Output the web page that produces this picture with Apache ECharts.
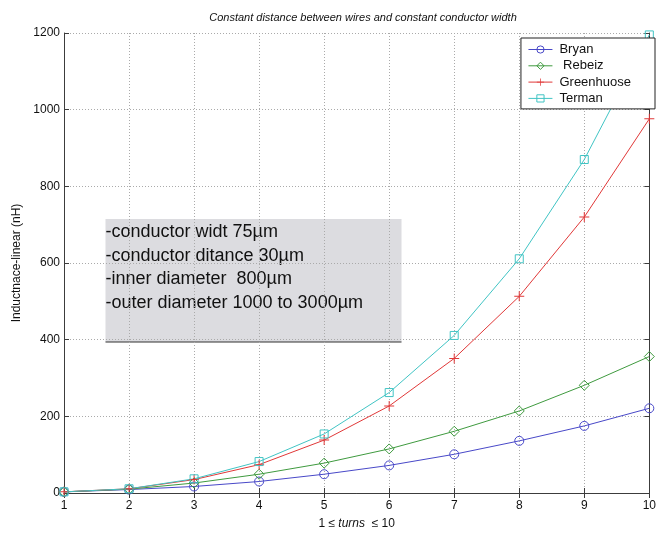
<!DOCTYPE html>
<html>
<head>
<meta charset="utf-8">
<script src="https://cdn.jsdelivr.net/npm/echarts@6/dist/echarts.min.js"></script>
<style>html,body{margin:0;padding:0;background:#fff}#c{width:659px;height:535px}</style>
</head>
<body>
<div id="c"></div>
<script>
var turns = [1, 2, 3, 4, 5, 6, 7, 8, 9, 10];
var bryan = [3, 9, 17, 30, 49, 72, 101, 136, 175, 221];
var rebeiz = [3, 10, 26, 49, 78, 115, 161, 214, 281, 356];
var greenhuose = [3, 11, 35, 74, 138, 227, 351, 513, 720, 976];
var terman = [3, 11, 37, 82, 154, 262, 411, 611, 870, 1195];
var seriesNames = ['Bryan', ' Rebeiz', 'Greenhuose', 'Terman'];
var infoLines = ['-conductor widt 75\u00b5m', '-conductor ditance 30\u00b5m', '-inner diameter  800\u00b5m', '-outer diameter 1000 to 3000\u00b5m'];

function pairs(ys) { return turns.map(function (x, i) { return [x, ys[i]]; }); }

var chart = echarts.init(document.getElementById('c'));
var FONT = 'Liberation Sans, Arial, sans-serif';
var axisCol = '#3c3c3c';
var plus = 'path://M4.5,0H5.5V10H4.5ZM0,4.5H10V5.5H0Z';

function mkSeries(name, data, color, symbol, size) {
  var isPlus = symbol === plus;
  return {
    name: name, type: 'line', data: pairs(data), symbol: symbol, symbolSize: size,
    showAllSymbol: true,
    lineStyle: { color: color, width: 1 },
    itemStyle: isPlus ? { color: color, borderWidth: 0 } : { color: 'rgba(255,255,255,0)', borderColor: color, borderWidth: 1 },
    emphasis: { disabled: true }, animation: false, z: 3
  };
}

var commonAxis = {
  axisLine: { show: true, lineStyle: { color: axisCol, width: 1 } },
  axisTick: { show: true, inside: true, length: 5, lineStyle: { color: axisCol } }
};

chart.setOption({
  animation: false,
  title: {
    text: 'Constant distance between wires and constant conductor width',
    left: 358, top: 7, textAlign: 'center',
    textStyle: { fontFamily: FONT, fontSize: 11, fontStyle: 'italic', fontWeight: 'normal', color: '#111' }
  },
  grid: { left: 64, right: 7, top: 33, bottom: 40 },
  legend: {
    data: seriesNames, orient: 'vertical', right: 4, top: 38,
    backgroundColor: '#fff', borderColor: '#222', borderWidth: 1,
    padding: [5, 24, 4, 7], itemWidth: 24, itemHeight: 9, itemGap: 3.3,
    lineStyle: { width: 1 }, itemStyle: { borderWidth: 1 },
    textStyle: { fontFamily: FONT, fontSize: 13, color: '#111', padding: [0, 0, 0, 2] }
  },
  xAxis: [Object.assign({
    type: 'value', min: 1, max: 10, interval: 1,
    name: '{a|1 \u2264 }{b|turns}{a|  \u2264 10}', nameLocation: 'middle', nameGap: 25,
    nameTextStyle: { rich: { a: { fontFamily: FONT, fontSize: 12, color: '#111' }, b: { fontFamily: FONT, fontSize: 12, fontStyle: 'italic', color: '#111' } } },
    axisLabel: { fontFamily: FONT, fontSize: 12, color: '#111', margin: 7 },
    splitLine: { show: true, lineStyle: { color: '#aaa', type: [1, 2], width: 1 } }
  }, commonAxis), Object.assign({
    type: 'value', min: 1, max: 10, interval: 1, position: 'top',
    axisLabel: { show: false }, splitLine: { show: false }
  }, commonAxis)],
  yAxis: [Object.assign({
    type: 'value', min: 0, max: 1200, interval: 200,
    name: 'Inductnace-linear (nH)', nameLocation: 'middle', nameGap: 37,
    nameTextStyle: { fontFamily: FONT, fontSize: 12, color: '#111' },
    axisLabel: { fontFamily: FONT, fontSize: 12, color: '#111', margin: 4, formatter: function (v) { return String(v); } },
    splitLine: { show: true, lineStyle: { color: '#aaa', type: [1, 2], width: 1 } }
  }, commonAxis), Object.assign({
    type: 'value', min: 0, max: 1200, interval: 200, position: 'right',
    axisLabel: { show: false }, splitLine: { show: false }
  }, commonAxis)],
  series: [
    mkSeries(seriesNames[0], bryan, '#4848c8', 'circle', 9),
    mkSeries(seriesNames[1], rebeiz, '#3f9a3f', 'diamond', 10),
    mkSeries(seriesNames[2], greenhuose, '#e03838', plus, 10),
    mkSeries(seriesNames[3], terman, '#40c4c4', 'rect', 8)
  ],
  graphic: [{
    type: 'group', left: 103, top: 219, z: 10,
    children: [
      { type: 'rect', shape: { x: 0, y: 0, width: 296, height: 123 }, style: { fill: '#dcdce0' } },
      { type: 'line', shape: { x1: 0, y1: 123, x2: 296, y2: 123 }, style: { stroke: '#333', lineWidth: 1 } }
    ].concat(infoLines.map(function (t, i) {
      return { type: 'text', x: 0, y: 13.5 + i * 23.4, style: { text: t, fill: '#111', font: '18px ' + FONT, textVerticalAlign: 'middle' } };
    }))
  }]
});
</script>
</body>
</html>
